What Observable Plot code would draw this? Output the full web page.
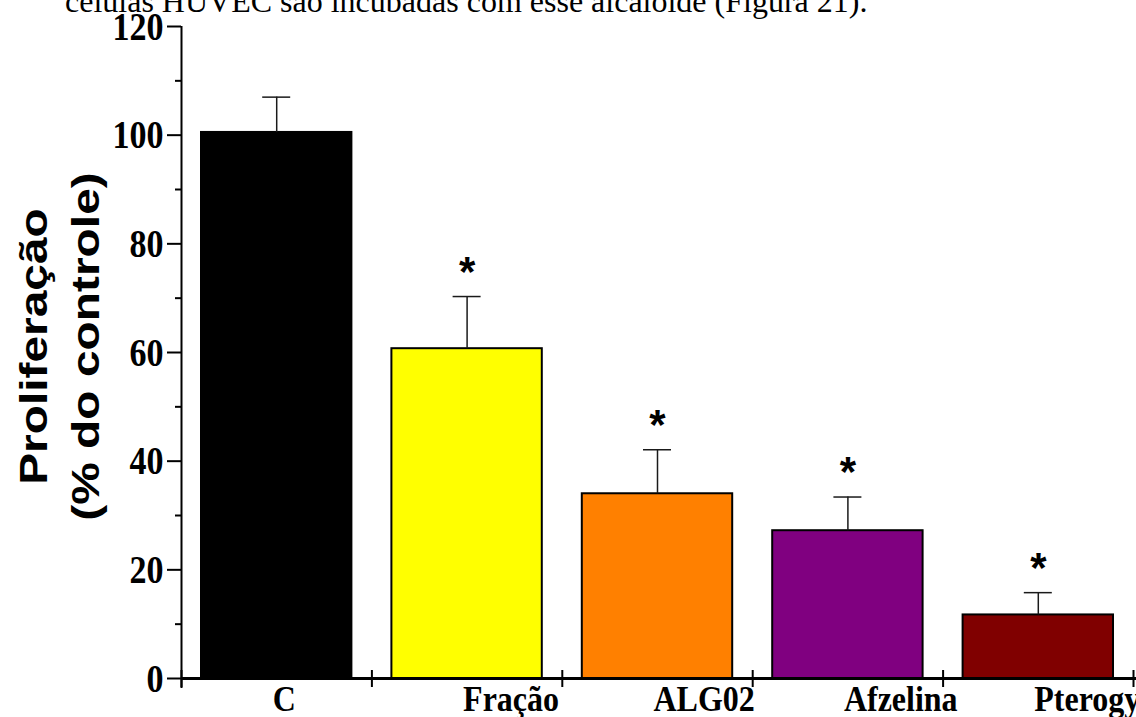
<!DOCTYPE html>
<html>
<head>
<meta charset="utf-8">
<script src="https://cdn.jsdelivr.net/npm/d3@7"></script>
<script src="https://cdn.jsdelivr.net/npm/@observablehq/plot@0.6"></script>
<style>
  html, body { margin: 0; padding: 0; background: #fff; overflow: hidden; }
  #wrap { position: relative; width: 1136px; height: 717px; overflow: hidden; }
  #note {
    position: absolute; left: 65px; top: -15px;
    font-family: "Liberation Serif", "Times New Roman", serif;
    font-size: 32px; line-height: 32px; white-space: nowrap; color: #000;
  }
  svg { display: block; }
</style>
</head>
<body>
<div id="wrap">
  <div id="note">células HUVEC são incubadas com esse alcaloide (Figura 21).</div>
</div>
<script>
// Proliferation of HUVEC cells, % of control (mean + SD)
const categories = ["C", "Fração", "ALG02", "Afzelina", "Pterogynina"];
const means = [100.5, 60.7, 34.0, 27.2, 11.7];
const errors = [6.5, 9.6, 8.1, 6.2, 4.1];
const significant = [false, true, true, true, true];
const barColors = ["#000000", "#ffff00", "#ff8000", "#800080", "#800000"];
const yTicks = [0, 20, 40, 60, 80, 100, 120];
const yMinorTicks = [10, 30, 50, 70, 90, 110];
const yTitle = "Proliferação\n(% do controle)";

const rows = categories.map((name, i) => ({
  name, i, mean: means[i], top: means[i] + errors[i], sig: significant[i], color: barColors[i]
}));
const bounds = d3.range(categories.length + 1);

const serif = "Liberation Serif, Times New Roman, serif";
const sans = "Liberation Sans, Arial, sans-serif";

const chart = Plot.plot({
  width: 1136,
  height: 717,
  marginLeft: 181,
  marginRight: 0,
  marginTop: 26,
  marginBottom: 39,
  x: {domain: [0, categories.length], range: [181, 1133], axis: null},
  y: {domain: [0, 120], axis: null},
  color: {type: "identity"},
  style: {background: "transparent", overflow: "hidden"},
  marks: [
    // bars
    Plot.rectY(rows, {
      x1: "i", x2: d => d.i + 1, y1: 0, y2: "mean",
      fill: "color", stroke: "#000", strokeWidth: 2,
      insetLeft: 20, insetRight: 20
    }),
    // error bars (upper only)
    Plot.ruleX(rows, {x: d => d.i + 0.5, y1: "mean", y2: "top", stroke: "#1a1a1a", strokeWidth: 1.5}),
    Plot.ruleY(rows, {y: "top", x1: d => d.i + 0.5, x2: d => d.i + 0.5, insetLeft: -14, insetRight: -14, stroke: "#1a1a1a", strokeWidth: 1.5}),
    // significance marks
    Plot.text(rows.filter(d => d.sig), {
      x: d => d.i + 0.5, y: "top", text: () => "*", dy: -24,
      fontSize: 42, fontWeight: "bold", fontFamily: sans, fill: "#000"
    }),
    // y axis
    Plot.ruleX([0], {y1: 120, y2: 0, insetBottom: -10, stroke: "#000", strokeWidth: 2}),
    Plot.ruleY(yMinorTicks, {y: d => d, x1: 0, x2: 0, insetLeft: -6, stroke: "#000", strokeWidth: 2}),
    Plot.axisY({
      ticks: yTicks, tickSize: 14, tickPadding: 4, strokeWidth: 2,
      fontSize: 34, fontWeight: "bold", fontFamily: serif, fill: "#000", stroke: "#000"
    }),
    // x axis
    Plot.ruleY([0], {stroke: "#000", strokeWidth: 3}),
    Plot.ruleX(bounds, {x: d => d, y1: 0, y2: 0, insetTop: -8, insetBottom: -9, stroke: "#000", strokeWidth: 2}),
    Plot.text(rows, {
      x: d => d.i + 0.5, y: 0, text: "name", textAnchor: "start", lineAnchor: "top",
      dx: -4, dy: 7, fontSize: 32, fontWeight: "bold", fontFamily: serif, fill: "#000"
    }),
    // y axis title
    Plot.text([yTitle], {
      frameAnchor: "left", text: d => d, rotate: -90, textAnchor: "middle", lineAnchor: "middle",
      dx: -125, dy: -6, lineHeight: 1.35,
      fontSize: 38, fontWeight: "bold", fontFamily: sans, fill: "#000"
    })
  ]
});

// The printed figure uses vertically elongated lettering; scale glyphs about their anchor.
function stretch(el, sx, sy) {
  let t = el.getAttribute("transform") || "";
  const isNum = v => v != null && /^-?[\d.]+$/.test(v);
  const xa = el.getAttribute("x"), ya = el.getAttribute("y");
  let tx = 0, ty = 0;
  if (isNum(xa)) { tx = +xa; el.removeAttribute("x"); }
  if (isNum(ya)) { ty = +ya; el.removeAttribute("y"); }
  if (tx || ty) t += ` translate(${tx},${ty})`;
  el.setAttribute("transform", `${t} scale(${sx},${sy})`);
}
d3.select(chart).selectAll("text").each(function () {
  const fam = this.closest("[font-family]")?.getAttribute("font-family") || "";
  const size = +(this.closest("[font-size]")?.getAttribute("font-size")) || 0;
  const t = this.getAttribute("transform") || "";
  if (t.includes("rotate")) stretch(this, 1.26, 1);
  else if (fam.includes("Serif")) stretch(this, 1, size > 33 ? 1.2 : 1.14);
});

document.getElementById("wrap").prepend(chart);
</script>
</body>
</html>
